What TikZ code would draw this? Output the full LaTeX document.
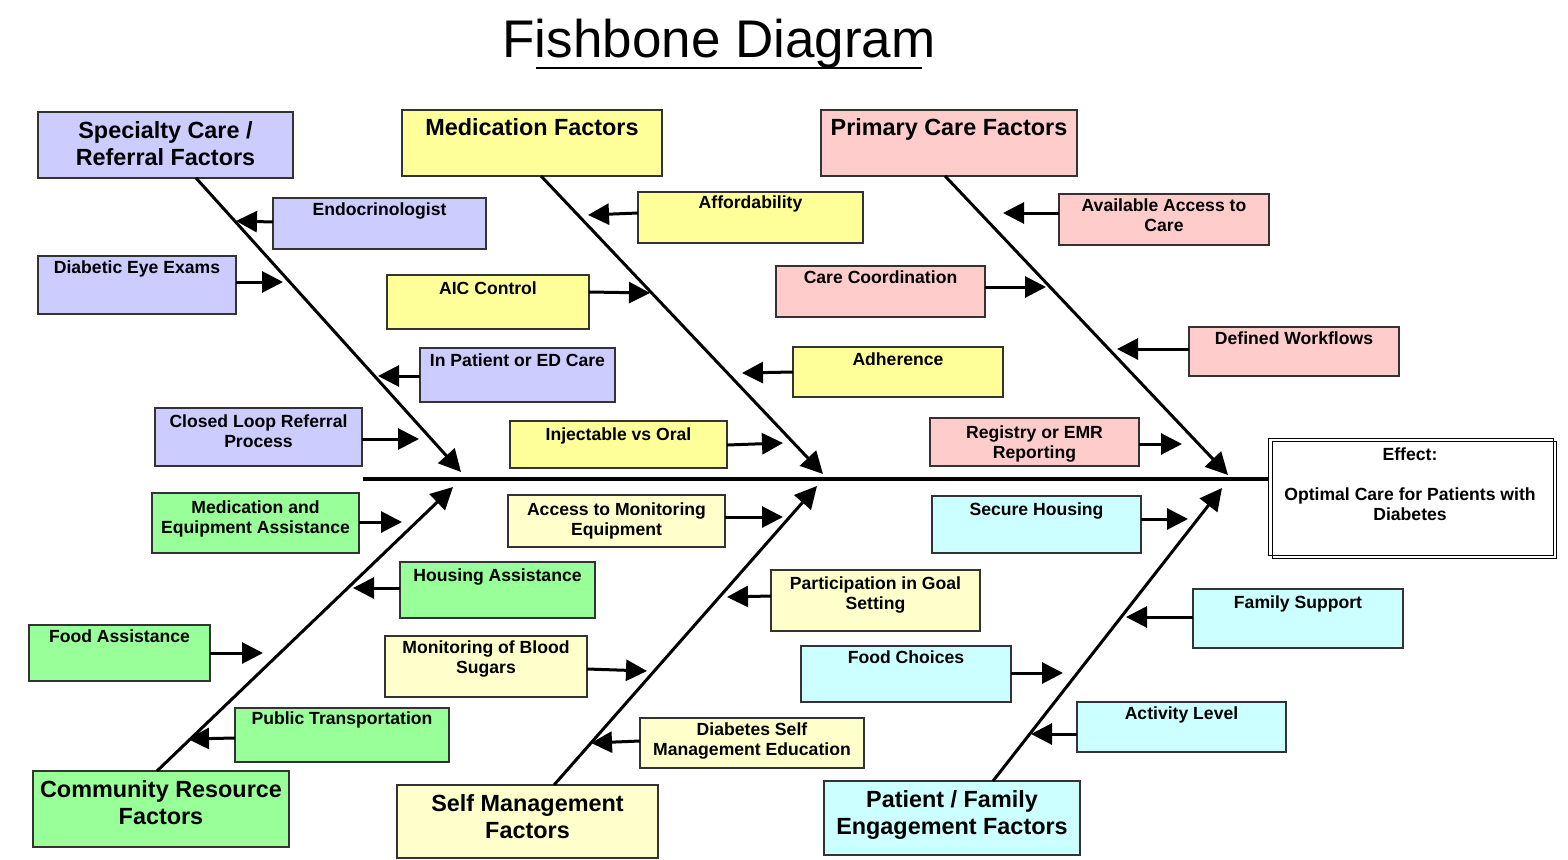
\documentclass[tikz,border=0pt]{standalone}
\usepackage{fontspec}
\setmainfont{Liberation Sans}
\usetikzlibrary{arrows.meta}
\definecolor{lav}{HTML}{CCCCFF}
\definecolor{yel}{HTML}{FFFF99}
\definecolor{pnk}{HTML}{FFCCCC}
\definecolor{grn}{HTML}{99FF99}
\definecolor{lyel}{HTML}{FFFFCC}
\definecolor{cyn}{HTML}{CCFFFF}
\begin{document}
\begin{tikzpicture}[x=1pt,y=-1pt,
 box/.style={draw=black!80, line width=1.2pt, anchor=north west, inner sep=0pt, outer sep=0pt},
 ctxt/.style={anchor=north, inner sep=0pt, align=center, font=\bfseries\fontsize{17.6}{20}\selectfont},
 cattxt/.style={anchor=north, inner sep=0pt, align=center, font=\bfseries\fontsize{23.4}{27}\selectfont},
 carrow/.style={line width=3pt, -{Triangle[length=21pt,width=21pt]}},
 bone/.style={line width=3pt, -{Triangle[length=22pt,width=22pt]}},
 spine/.style={line width=3.8pt}
]
\useasboundingbox (0,0) rectangle (1568,859);

% title
\node[anchor=base, inner sep=0pt, font=\fontsize{53}{60}\selectfont] (title) at (719,57) {Fishbone Diagram};
\draw[line width=1.2pt] (536,68) -- (922,68);

% category boxes
\node[box, fill=lav, minimum width=255pt, minimum height=66pt] (spec) at (38,112) {};
\node[cattxt] at ([yshift=-9pt]spec.north) {Specialty Care /\\Referral Factors};
\node[box, fill=yel, minimum width=260pt, minimum height=66pt] (med) at (402,110) {};
\node[cattxt] at ([yshift=-8pt]med.north) {Medication Factors};
\node[box, fill=pnk, minimum width=256pt, minimum height=66pt] (prim) at (821,110) {};
\node[cattxt] at ([yshift=-8pt]prim.north) {Primary Care Factors};
\node[box, fill=grn, minimum width=256pt, minimum height=76pt] (comm) at (33,771) {};
\node[cattxt] at ([yshift=-9.5pt]comm.north) {Community Resource\\Factors};
\node[box, fill=lyel, minimum width=261pt, minimum height=73pt] (self) at (397,785) {};
\node[cattxt] at ([yshift=-9pt]self.north) {Self Management\\Factors};
\node[box, fill=cyn, minimum width=256pt, minimum height=74pt] (pat) at (824,781) {};
\node[cattxt] at ([yshift=-9.5pt]pat.north) {Patient / Family\\Engagement Factors};

% effect box
\node[box, draw=black, line width=1pt, minimum width=285pt, minimum height=117pt] (eff) at (1268,438) {};
\draw[line width=1pt] (1272,441) rectangle (1556,558);
\node[ctxt] (efftxt) at (1410,447.5) {Effect:\\[20pt]Optimal Care for Patients with\\Diabetes};

% spine and bones
\coordinate (sp0) at (363,479);
\draw[spine] (sp0) -- (eff.west |- 0,479);
\coordinate (h1) at (461,472);
\coordinate (h2) at (823,474);
\coordinate (h3) at (1228,475);
\coordinate (h4) at (453,487);
\coordinate (h5) at (817,486);
\coordinate (h6) at (1222,488);
\draw[bone] (spec.south -| 196,0) -- (h1);
\draw[bone] (med.south -| 541,0) -- (h2);
\draw[bone] (prim.south -| 945,0) -- (h3);
\draw[bone] (comm.north -| 157,0) -- (h4);
\draw[bone] (self.north -| 554,0) -- (h5);
\draw[bone] (pat.north -| 993,0) -- (h6);

% Specialty causes
\node[box, fill=lav, minimum width=213pt, minimum height=51pt] (endo) at (273,198) {};
\node[ctxt] at ([yshift=-4.7pt]endo.north) {Endocrinologist};
\node[box, fill=lav, minimum width=198pt, minimum height=58pt] (eye) at (38,256) {};
\node[ctxt] at ([yshift=-4.2pt]eye.north) {Diabetic Eye Exams};
\node[box, fill=lav, minimum width=195pt, minimum height=54pt] (inpt) at (420,348) {};
\node[ctxt] at ([yshift=-5.7pt]inpt.north) {In Patient or ED Care};
\node[box, fill=lav, minimum width=207pt, minimum height=58pt] (clr) at (155,408) {};
\node[ctxt] at ([yshift=-6.7pt]clr.north) {Closed Loop Referral\\Process};

% Medication causes
\node[box, fill=yel, minimum width=225pt, minimum height=51pt] (aff) at (638,192) {};
\node[ctxt] at ([yshift=-3.7pt]aff.north) {Affordability};
\node[box, fill=yel, minimum width=202pt, minimum height=54pt] (aic) at (387,275) {};
\node[ctxt] at ([yshift=-6.7pt]aic.north) {AIC Control};
\node[box, fill=yel, minimum width=210pt, minimum height=50pt] (adh) at (793,347) {};
\node[ctxt] at ([yshift=-5.7pt]adh.north) {Adherence};
\node[box, fill=yel, minimum width=217pt, minimum height=47pt] (inj) at (510,421) {};
\node[ctxt] at ([yshift=-6.7pt]inj.north) {Injectable vs Oral};

% Primary care causes
\node[box, fill=pnk, minimum width=210pt, minimum height=51pt] (avail) at (1059,194) {};
\node[ctxt] at ([yshift=-4.7pt]avail.north) {Available Access to\\Care};
\node[box, fill=pnk, minimum width=209pt, minimum height=51pt] (cc) at (776,266) {};
\node[ctxt] at ([yshift=-4.7pt]cc.north) {Care Coordination};
\node[box, fill=pnk, minimum width=210pt, minimum height=49pt] (dw) at (1189,327) {};
\node[ctxt] at ([yshift=-4.7pt]dw.north) {Defined Workflows};
\node[box, fill=pnk, minimum width=209pt, minimum height=48pt] (reg) at (930,418) {};
\node[ctxt] at ([yshift=-7.2pt]reg.north) {Registry or EMR\\Reporting};

% Community causes
\node[box, fill=grn, minimum width=207pt, minimum height=60pt] (mea) at (152,493) {};
\node[ctxt] at ([yshift=-7.7pt]mea.north) {Medication and\\Equipment Assistance};
\node[box, fill=grn, minimum width=195pt, minimum height=56pt] (hous) at (400,562) {};
\node[ctxt] at ([yshift=-6.7pt]hous.north) {Housing Assistance};
\node[box, fill=grn, minimum width=181pt, minimum height=56pt] (food) at (29,625) {};
\node[ctxt] at ([yshift=-4.7pt]food.north) {Food Assistance};
\node[box, fill=grn, minimum width=214pt, minimum height=54pt] (pt) at (235,708) {};
\node[ctxt] at ([yshift=-3.7pt]pt.north) {Public Transportation};

% Self management causes
\node[box, fill=lyel, minimum width=217pt, minimum height=52pt] (amon) at (508,495) {};
\node[ctxt] at ([yshift=-7.7pt]amon.north) {Access to Monitoring\\Equipment};
\node[box, fill=lyel, minimum width=209pt, minimum height=61pt] (part) at (771,570) {};
\node[ctxt] at ([yshift=-6.7pt]part.north) {Participation in Goal\\Setting};
\node[box, fill=lyel, minimum width=202pt, minimum height=61pt] (mbs) at (385,636) {};
\node[ctxt] at ([yshift=-4.7pt]mbs.north) {Monitoring of Blood\\Sugars};
\node[box, fill=lyel, minimum width=224pt, minimum height=50pt] (dsme) at (640,718) {};
\node[ctxt] at ([yshift=-4.7pt]dsme.north) {Diabetes Self\\Management Education};

% Patient / family causes
\node[box, fill=cyn, minimum width=209pt, minimum height=57pt] (sh) at (932,496) {};
\node[ctxt] at ([yshift=-6.7pt]sh.north) {Secure Housing};
\node[box, fill=cyn, minimum width=210pt, minimum height=59pt] (fs) at (1193,589) {};
\node[ctxt] at ([yshift=-6.7pt]fs.north) {Family Support};
\node[box, fill=cyn, minimum width=210pt, minimum height=56pt] (fc) at (801,646) {};
\node[ctxt] at ([yshift=-4.7pt]fc.north) {Food Choices};
\node[box, fill=cyn, minimum width=209pt, minimum height=50pt] (al) at (1077,702) {};
\node[ctxt] at ([yshift=-4.7pt]al.north) {Activity Level};

% cause arrow tips
\coordinate (t-endo) at (236,221);
\coordinate (t-eye) at (283,282);
\coordinate (t-inpt) at (378,376);
\coordinate (t-clr) at (419,439);
\coordinate (t-aff) at (588,215);
\coordinate (t-aic) at (650,293);
\coordinate (t-adh) at (742,373);
\coordinate (t-inj) at (783,443);
\coordinate (t-avail) at (1003,213);
\coordinate (t-cc) at (1046,287);
\coordinate (t-dw) at (1117,349);
\coordinate (t-reg) at (1182,444);
\coordinate (t-mea) at (402,522);
\coordinate (t-hous) at (353,588);
\coordinate (t-food) at (263,653);
\coordinate (t-pt) at (188,739);
\coordinate (t-amon) at (783,517);
\coordinate (t-part) at (727,597);
\coordinate (t-mbs) at (647,671);
\coordinate (t-dsme) at (591,743);
\coordinate (t-sh) at (1188,519);
\coordinate (t-fs) at (1126,617);
\coordinate (t-fc) at (1063,673);
\coordinate (t-al) at (1031,734);

% cause arrows
\draw[carrow] (endo.west |- 0,222) -- (t-endo);
\draw[carrow] (eye.east |- 0,282) -- (t-eye);
\draw[carrow] (inpt.west |- 0,376) -- (t-inpt);
\draw[carrow] (clr.east |- 0,439) -- (t-clr);
\draw[carrow] (aff.west |- 0,213) -- (t-aff);
\draw[carrow] (aic.east |- 0,292) -- (t-aic);
\draw[carrow] (adh.west |- 0,372) -- (t-adh);
\draw[carrow] (inj.east |- 0,445) -- (t-inj);
\draw[carrow] (avail.west |- 0,213) -- (t-avail);
\draw[carrow] (cc.east |- 0,287) -- (t-cc);
\draw[carrow] (dw.west |- 0,349) -- (t-dw);
\draw[carrow] (reg.east |- 0,444) -- (t-reg);
\draw[carrow] (mea.east |- 0,522) -- (t-mea);
\draw[carrow] (hous.west |- 0,588) -- (t-hous);
\draw[carrow] (food.east |- 0,653) -- (t-food);
\draw[carrow] (pt.west |- 0,738) -- (t-pt);
\draw[carrow] (amon.east |- 0,517) -- (t-amon);
\draw[carrow] (part.west |- 0,596) -- (t-part);
\draw[carrow] (mbs.east |- 0,669) -- (t-mbs);
\draw[carrow] (dsme.west |- 0,741) -- (t-dsme);
\draw[carrow] (sh.east |- 0,519) -- (t-sh);
\draw[carrow] (fs.west |- 0,617) -- (t-fs);
\draw[carrow] (fc.east |- 0,673) -- (t-fc);
\draw[carrow] (al.west |- 0,734) -- (t-al);
\end{tikzpicture}
\end{document}
